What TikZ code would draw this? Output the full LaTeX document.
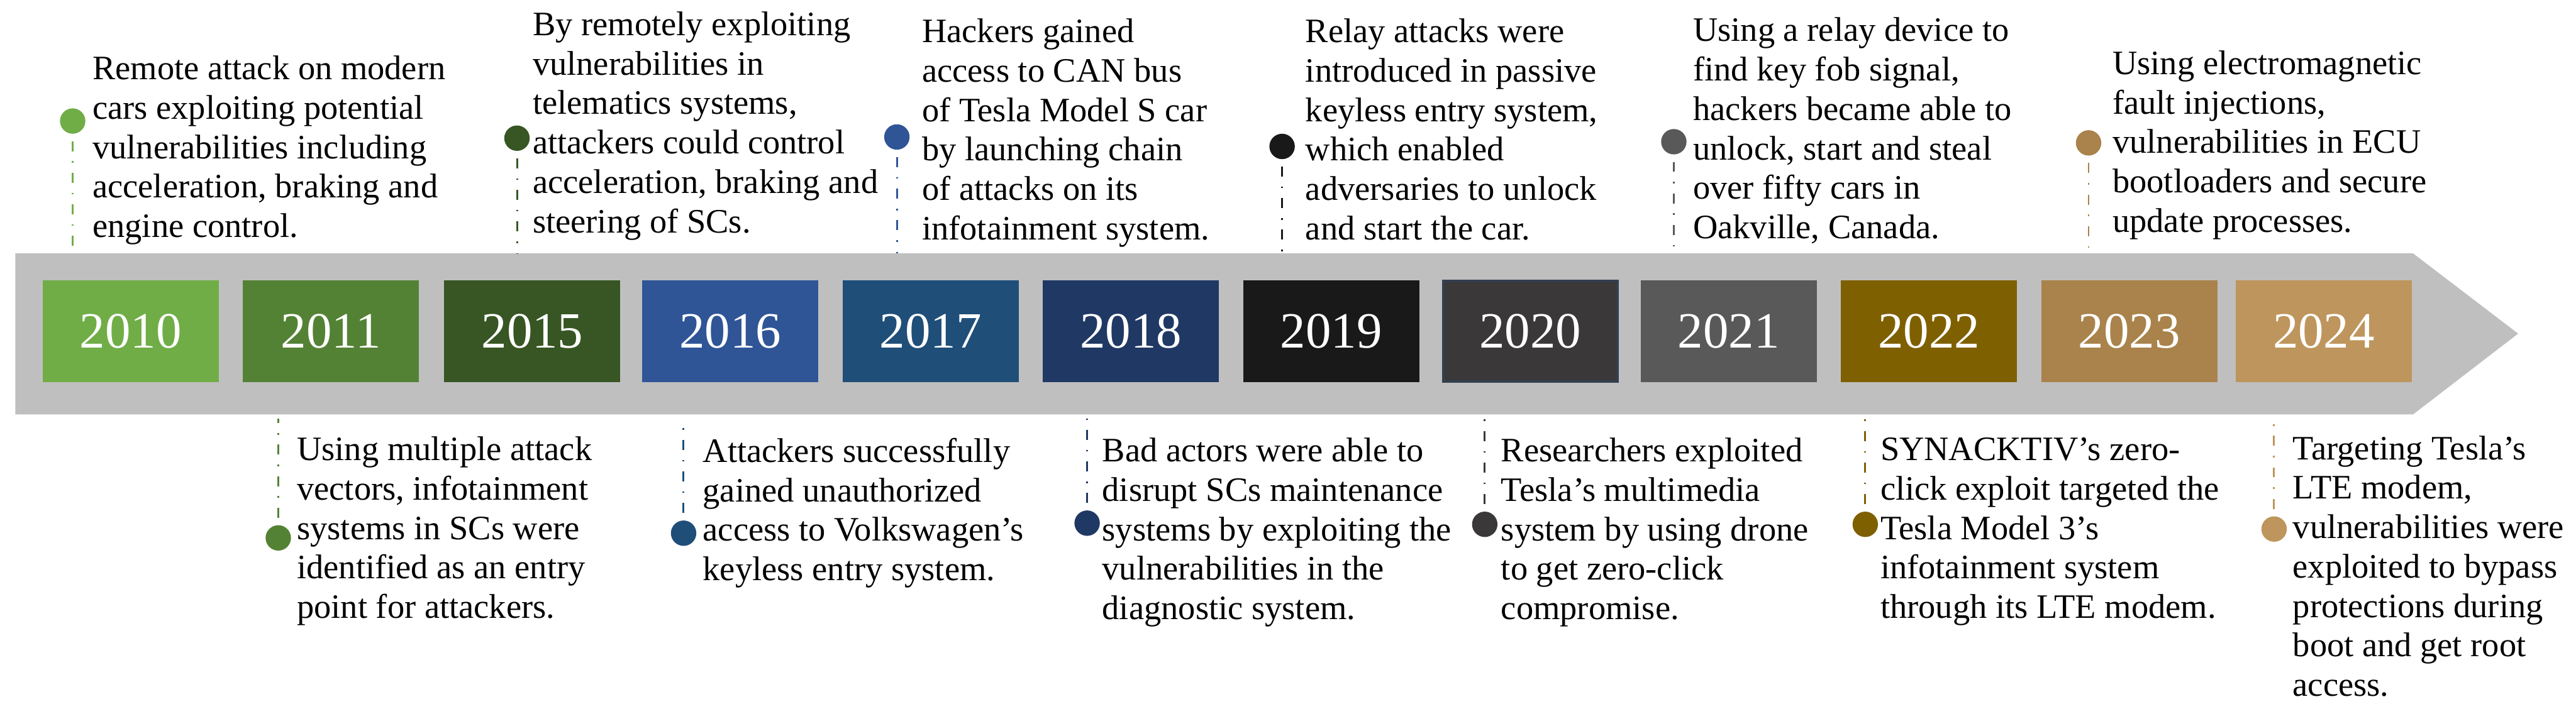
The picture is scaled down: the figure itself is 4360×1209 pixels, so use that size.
\documentclass[tikz,border=0pt]{standalone}
\usepackage{fontspec}
\setmainfont{Liberation Serif}
\usepackage{xcolor}
\definecolor{band}{HTML}{BFBFBF}
\definecolor{c2010}{HTML}{70AD47}
\definecolor{c2011}{HTML}{548235}
\definecolor{c2015}{HTML}{375623}
\definecolor{c2016}{HTML}{2F5597}
\definecolor{c2017}{HTML}{1F4E79}
\definecolor{c2018}{HTML}{203864}
\definecolor{c2019}{HTML}{191919}
\definecolor{c2020}{HTML}{3A3838}
\definecolor{c2020edge}{HTML}{333F50}
\definecolor{c2021}{HTML}{595959}
\definecolor{c2022}{HTML}{7F6000}
\definecolor{c2023}{HTML}{A9834B}
\definecolor{c2024}{HTML}{BE955C}

\begin{document}
\begin{tikzpicture}[x=0.1mm, y=-0.1mm,
    yearbox/.style={fill=#1, text=white, minimum width=2.98cm, minimum height=1.73cm,
        inner sep=0pt, font=\fontsize{24.5}{29}\selectfont},
    evdot/.style={circle, fill=#1, minimum size=0.43cm, inner sep=0pt},
    evline/.style={draw=#1, line width=0.9pt, dash pattern=on 4.8pt off 4.8pt on 0.8pt off 4.8pt,
        shorten <=0.12cm},
    % base = baseline of the last line
    event/.style={anchor=base west, align=left, inner sep=0pt, font=\fontsize{16.5}{19}\selectfont}]
    \useasboundingbox (0,0) rectangle (4360,1209);

    % timeline arrow
    \fill[band] (26,429) -- (4084,429) -- (4262,565) -- (4084,702) -- (26,702) -- cycle;
    \coordinate (bandtop) at (0,429);
    \coordinate (bandbot) at (0,709);

    % year boxes
    \foreach \yr/\xc in {2010/221, 2011/560, 2015/901, 2016/1236, 2017/1575, 2018/1914,
                         2019/2253, 2020/2590, 2021/2926, 2022/3265, 2023/3604, 2024/3933}
        \node[yearbox=c\yr] (y\yr) at (\xc,561) {\yr};
    \draw[c2020edge, line width=1.2pt] ([shift={(0.6pt,-0.6pt)}]y2020.north west)
        rectangle ([shift={(-0.6pt,0.6pt)}]y2020.south east);

    % events above the line
    \node[evdot=c2010] (d2010) at (123,205) {};
    \draw[evline=c2010] (d2010) -- (d2010 |- bandtop);
    \node[event] (t2010) at (156,402) {Remote attack on modern\\cars exploiting potential\\vulnerabilities including\\acceleration, braking and\\engine control.};

    \node[evdot=c2015] (d2015) at (875,234) {};
    \draw[evline=c2015] (d2015) -- (d2015 |- bandtop);
    \node[event] (t2015) at (901,394) {By remotely exploiting\\vulnerabilities in\\telematics systems,\\attackers could control\\acceleration, braking and\\steering of SCs.};

    \node[evdot=c2016] (d2017) at (1518,232) {};
    \draw[evline=c2016] (d2017) -- (d2017 |- bandtop);
    \node[event] (t2017) at (1560,406) {Hackers gained\\access to CAN bus\\of Tesla Model S car\\by launching chain\\of attacks on its\\infotainment system.};

    \node[evdot=c2019] (d2019) at (2170,248) {};
    \draw[evline=c2019] (d2019) -- (d2019 |- bandtop);
    \node[event] (t2019) at (2209,406) {Relay attacks were\\introduced in passive\\keyless entry system,\\which enabled\\adversaries to unlock\\and start the car.};

    \node[evdot=c2021] (d2021) at (2833,240) {};
    \draw[evline=c2021] (d2021) -- (d2021 |- bandtop);
    \node[event] (t2021) at (2865,404) {Using a relay device to\\find key fob signal,\\hackers became able to\\unlock, start and steal\\over fifty cars in\\Oakville, Canada.};

    \node[evdot=c2023] (d2023) at (3535,242) {};
    \draw[evline=c2023] (d2023) -- (d2023 |- bandtop);
    \node[event] (t2023) at (3575,393) {Using electromagnetic\\fault injections,\\vulnerabilities in ECU\\bootloaders and secure\\update processes.};

    % events below the line
    \node[evdot=c2011] (d2011) at (471,911) {};
    \draw[evline=c2011] (d2011) -- (d2011 |- bandbot);
    \node[event] (t2011) at (502,1047) {Using multiple attack\\vectors, infotainment\\systems in SCs were\\identified as an entry\\point for attackers.};

    \node[evdot=c2017] (d2016) at (1157,903) {};
    \draw[evline=c2017] (d2016) -- (d2016 |- bandbot);
    \node[event] (t2016) at (1189,983) {Attackers successfully\\gained unauthorized\\access to Volkswagen’s\\keyless entry system.};

    \node[evdot=c2018] (d2018) at (1840,886) {};
    \draw[evline=c2018] (d2018) -- (d2018 |- bandbot);
    \node[event] (t2018) at (1865,1049) {Bad actors were able to\\disrupt SCs maintenance\\systems by exploiting the\\vulnerabilities in the\\diagnostic system.};

    \node[evdot=c2020] (d2020) at (2513,888) {};
    \draw[evline=c2020] (d2020) -- (d2020 |- bandbot);
    \node[event] (t2020) at (2540,1049) {Researchers exploited\\Tesla’s multimedia\\system by using drone\\to get zero-click\\compromise.};

    \node[evdot=c2022] (d2022) at (3157,888) {};
    \draw[evline=c2022] (d2022) -- (d2022 |- bandbot);
    \node[event] (t2022) at (3182,1047) {SYNACKTIV’s zero-\\click exploit targeted the\\Tesla Model 3’s\\infotainment system\\through its LTE modem.};

    \node[evdot=c2024] (d2024) at (3849,896) {};
    \draw[evline=c2024] (d2024) -- (d2024 |- bandbot);
    \node[event] (t2024) at (3880,1179) {Targeting Tesla’s\\LTE modem,\\vulnerabilities were\\exploited to bypass\\protections during\\boot and get root\\access.};
\end{tikzpicture}
\end{document}
